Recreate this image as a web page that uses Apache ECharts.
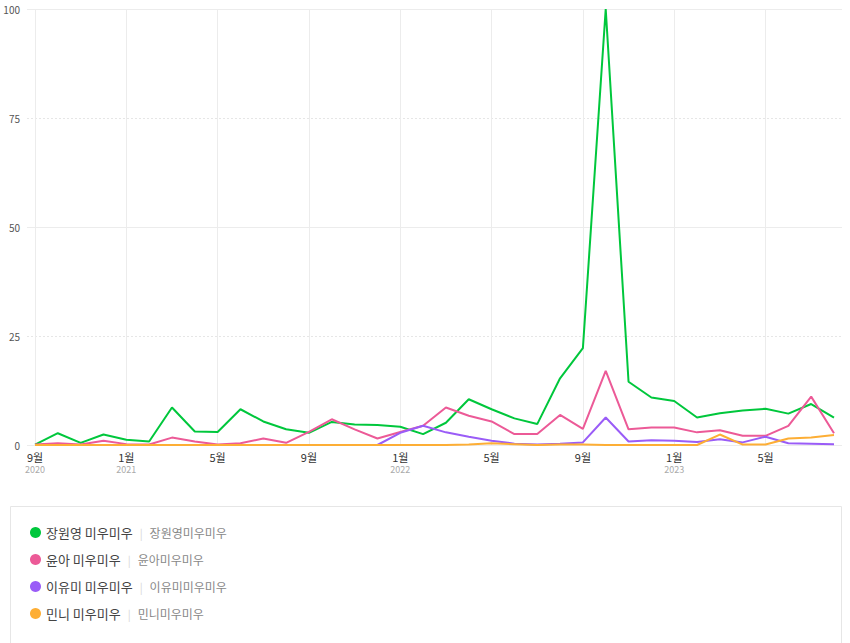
<!DOCTYPE html>
<html>
<head>
<meta charset="utf-8">
<script src="https://cdn.jsdelivr.net/npm/echarts@6/dist/echarts.min.js"></script>
<style>
html,body{margin:0;padding:0;background:#fff;}
#chart{width:850px;height:643px;}
</style>
</head>
<body>
<div id="chart"></div>
<script>
// Months: Sep 2020 .. Aug 2023
var months = ['2020-09','2020-10','2020-11','2020-12','2021-01','2021-02','2021-03','2021-04','2021-05','2021-06','2021-07','2021-08',
              '2021-09','2021-10','2021-11','2021-12','2022-01','2022-02','2022-03','2022-04','2022-05','2022-06','2022-07','2022-08',
              '2022-09','2022-10','2022-11','2022-12','2023-01','2023-02','2023-03','2023-04','2023-05','2023-06','2023-07','2023-08'];

var seriesNames = ['장원영 미우미우','윤아 미우미우','이유미 미우미우','민니 미우미우'];
var keywords = ['장원영미우미우','윤아미우미우','이유미미우미우','민니미우미우'];
var colors = ['#00c73c','#ec5a97','#9a5cf7','#fdae35'];

var jangwonyoung = [0.1,2.7,0.5,2.4,1.2,0.8,8.6,3.1,3.0,8.2,5.4,3.6,2.8,5.3,4.7,4.6,4.2,2.5,5.1,10.5,8.2,6.1,4.8,15.3,22.2,100,14.5,10.9,10.1,6.3,7.3,7.9,8.3,7.2,9.4,6.3];
var yoona        = [0.1,0.4,0.1,1.0,0.2,0.1,1.7,0.8,0.1,0.4,1.5,0.5,3.0,5.9,3.6,1.5,3.0,4.4,8.6,6.7,5.4,2.5,2.5,6.9,3.7,17.0,3.6,4.0,4.0,2.9,3.4,2.1,2.1,4.4,11.1,2.7];
var leeyumi      = [0,0,0,0,0,0,0,0,0,0,0,0,0,0,0,0,2.8,4.4,2.9,1.9,1.0,0.3,0.1,0.3,0.6,6.3,0.8,1.1,1.0,0.7,1.3,0.6,1.9,0.4,0.3,0.2];
var minnie       = [0,0,0,0,0,0,0,0,0,0,0,0,0,0,0,0,0,0,0,0.1,0.4,0.2,0,0.1,0.1,0,0,0,0,0,2.4,0.1,0.1,1.5,1.7,2.3];

var yTicks = [0,25,50,75,100];

var allData = [jangwonyoung, yoona, leeyumi, minnie];

var chart = echarts.init(document.getElementById('chart'), null, {renderer:'svg'});

var font = '"Noto Sans CJK KR", "Noto Sans", sans-serif';

function monthLabel(val){
  return parseInt(val.split('-')[1],10) + '월';
}
function yearLabel(val, idx){
  var p = val.split('-');
  return (idx === 0 || parseInt(p[1],10) === 1) ? p[0] : '';
}
function every4(i){ return i % 4 === 0; }

var option = {
  animation:false,
  backgroundColor:'#fff',
  textStyle:{fontFamily:font},
  grid:[
    {left:27, right:8, top:9, height:436, containLabel:false},
    {left:35, right:16, top:9, height:436, containLabel:false}
  ],
  xAxis:[
    {gridIndex:0, type:'value', min:0, max:1, show:false},
    {gridIndex:1, type:'category', data:months, boundaryGap:false, position:'bottom',
      axisLine:{show:false}, axisTick:{show:false},
      splitLine:{show:true, interval:every4, lineStyle:{color:'#ececec', width:1}},
      axisLabel:{interval:every4, margin:6, formatter:monthLabel, fontSize:11, color:'#333', fontFamily:font}
    },
    {gridIndex:1, type:'category', data:months, boundaryGap:false, position:'bottom',
      axisLine:{show:false}, axisTick:{show:false}, splitLine:{show:false},
      axisLabel:{interval:every4, margin:20, formatter:yearLabel, fontSize:9, color:'#aaa', fontFamily:font}
    }
  ],
  yAxis:[
    {gridIndex:0, type:'value', min:0, max:100, interval:25,
      axisLine:{show:false}, axisTick:{show:false},
      axisLabel:{show:true, margin:7, color:'#555', fontSize:10, fontFamily:font,
        formatter:function(v){return yTicks.indexOf(v)>=0 ? String(v) : '';}},
      splitLine:{show:true, lineStyle:{color:'#e6e6e6', type:[2,2]}}
    },
    {gridIndex:0, type:'value', min:0, max:100, interval:50, position:'left',
      axisLine:{show:false}, axisTick:{show:false}, axisLabel:{show:false},
      splitLine:{show:true, lineStyle:{color:'#ececec', type:'solid'}}
    },
    {gridIndex:1, type:'value', min:0, max:100, interval:25, show:false}
  ],
  legend:{
    orient:'vertical', left:25, top:521, itemGap:14, itemWidth:11, itemHeight:11,
    icon:'circle', selectedMode:false,
    data:seriesNames,
    formatter:function(name){
      var i = seriesNames.indexOf(name);
      return '{n|' + name + '}{s||}{k|' + keywords[i] + '}';
    },
    textStyle:{
      rich:{
        n:{fontSize:13, color:'#444', fontFamily:font},
        s:{fontSize:11, color:'#d6d6d6', fontFamily:font, padding:[0,7,0,7]},
        k:{fontSize:12, color:'#888', fontFamily:font}
      }
    }
  },
  graphic:[
    {type:'rect', shape:{x:10.5, y:506.5, width:831, height:160}, style:{fill:'#fff', stroke:'#e6e6e6', lineWidth:1}, z:-10, silent:true}
  ],
  series: seriesNames.map(function(n,i){
    return {
      name:n, type:'line', xAxisIndex:1, yAxisIndex:2, data:allData[i],
      showSymbol:false, symbol:'circle', symbolSize:0,
      lineStyle:{width:2, color:colors[i]}, itemStyle:{color:colors[i]},
      z:2+i
    };
  })
};
chart.setOption(option);
</script>
</body>
</html>
